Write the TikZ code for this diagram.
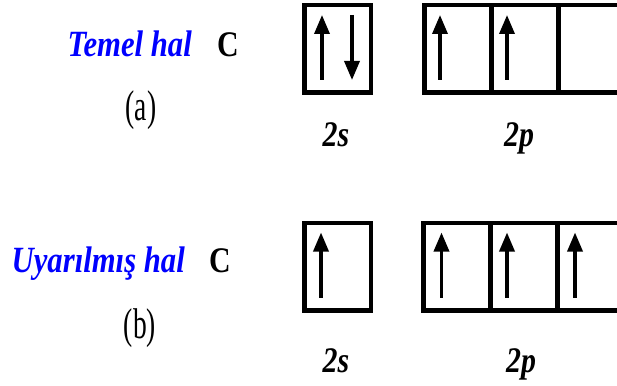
\documentclass[tikz,border=0pt]{standalone}
\usepackage{fontspec}
\setmainfont{Liberation Serif}
\usepackage{tikz}
\usepackage{xcolor}
\usetikzlibrary{arrows.meta, calc}
\definecolor{halblue}{RGB}{0, 0, 255}

\begin{document}
\begin{tikzpicture}[
    x=1pt, y=-1pt,
    cell/.style={draw, line width=4.5pt, minimum width=66.5pt, minimum height=87.5pt, inner sep=0pt},
    spin/.style={line width=3.4pt, -{Triangle[length=19pt, width=15pt]}},
    state/.style={font=\fontsize{37}{37}\selectfont\bfseries\itshape, text=halblue, xscale=0.83, inner sep=0pt},
    atom/.style={font=\fontsize{36}{36}\selectfont\bfseries, xscale=0.83, inner sep=0pt},
    tag/.style={font=\fontsize{43}{43}\selectfont, xscale=0.64, inner sep=0pt},
    orb/.style={font=\fontsize{36}{36}\selectfont\bfseries\itshape, xscale=0.83, inner sep=0pt}
]
    \useasboundingbox (0,0) rectangle (617,385);
    \clip (0,0) rectangle (617,385);

    % Ground state (a)
    \node[state, anchor=base east] (tema) at (192,57) {Temel hal};
    \node[atom, anchor=base] (ca) at (228,57) {C};
    \node[tag] (la) at (141,110) {(a)};

    \node[cell] (sa) at (337.5,49) {};
    \node[cell] (pa1) at (457.5,49) {};
    \node[cell] (pa2) at (524.5,49) {};
    \node[cell] (pa3) at (591.5,49) {};

    \draw[spin] ($(sa.center)+(-15.5,31)$) -- ($(sa.center)+(-15.5,-34)$);
    \draw[spin] ($(sa.center)+(14.5,-34)$) -- ($(sa.center)+(14.5,31)$);
    \draw[spin] ($(pa1.center)+(-17.5,31)$) -- ($(pa1.center)+(-17.5,-34)$);
    \draw[spin] ($(pa2.center)+(-17.5,31)$) -- ($(pa2.center)+(-17.5,-34)$);

    \node[orb, anchor=base] (sla) at (336,146) {2s};
    \node[orb, anchor=base] (pla) at (519,146) {2p};

    % Excited state (b)
    \node[state, anchor=base east] (temb) at (185,272) {Uyarılmış hal};
    \node[atom, anchor=base] (cb) at (220,272) {C};
    \node[tag] (lb) at (140,328) {(b)};

    \node[cell] (sb) at (337.5,266.5) {};
    \node[cell] (pb1) at (456.5,266.5) {};
    \node[cell] (pb2) at (523.5,266.5) {};
    \node[cell] (pb3) at (590.5,266.5) {};

    \draw[spin] ($(sb.center)+(-16.5,31)$) -- ($(sb.center)+(-16.5,-34)$);
    \draw[spin] ($(pb1.center)+(-15,31)$) -- ($(pb1.center)+(-15,-34)$);
    \draw[spin] ($(pb2.center)+(-16.5,31)$) -- ($(pb2.center)+(-16.5,-34)$);
    \draw[spin] ($(pb3.center)+(-15.5,31)$) -- ($(pb3.center)+(-15.5,-34)$);

    \node[orb, anchor=base] (slb) at (336,372) {2s};
    \node[orb, anchor=base] (plb) at (521,372) {2p};

\end{tikzpicture}
\end{document}
